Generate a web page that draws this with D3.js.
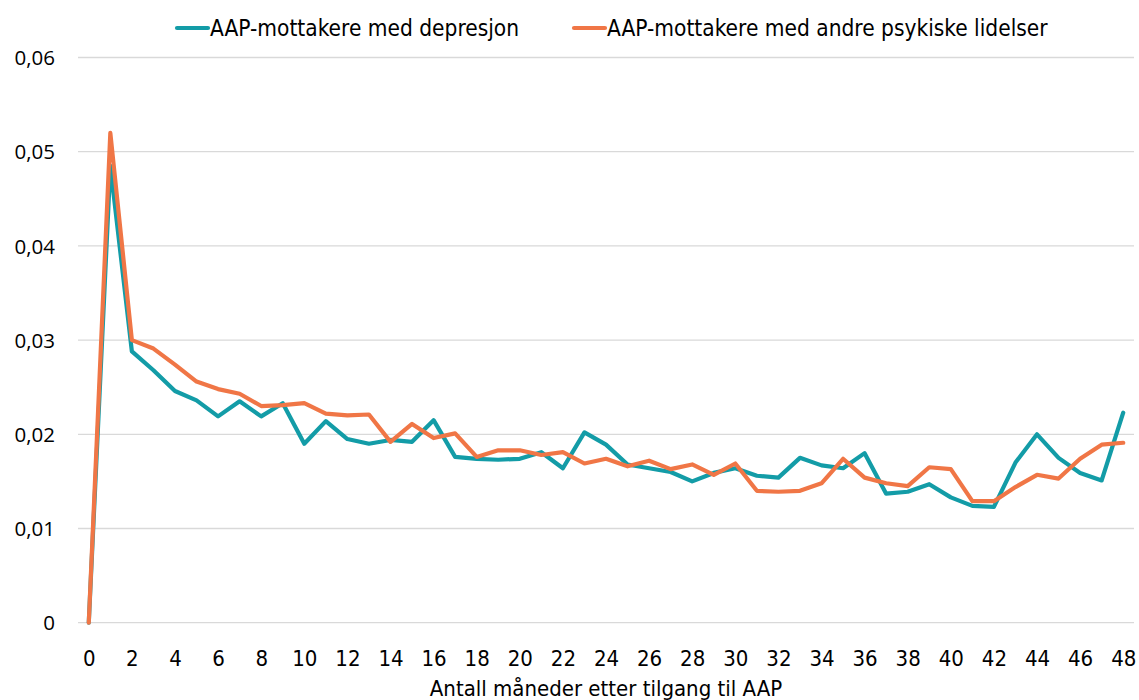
<!DOCTYPE html>
<html>
<head>
<meta charset="utf-8">
<script src="https://cdn.jsdelivr.net/npm/d3@7"></script>
<style>
  html, body { margin: 0; padding: 0; background: #fff; }
  svg { display: block; }
</style>
</head>
<body>
<svg id="chart" width="1139" height="700"></svg>
<script>
const months = d3.range(0, 49);
const seriesNames = ["AAP-mottakere med depresjon", "AAP-mottakere med andre psykiske lidelser"];
const depresjon = [
  0, 0.0485, 0.0288, 0.0268, 0.0246, 0.0236, 0.0219, 0.0235, 0.0219, 0.0233,
  0.0190, 0.0214, 0.0195, 0.0190, 0.0194, 0.0192, 0.0215, 0.0176, 0.0174, 0.0173,
  0.0174, 0.0181, 0.0164, 0.0202, 0.0189, 0.0168, 0.0164, 0.0160, 0.0150, 0.0159,
  0.0164, 0.0156, 0.0154, 0.0175, 0.0167, 0.0164, 0.0180, 0.0137, 0.0139, 0.0147,
  0.0133, 0.0124, 0.0123, 0.0170, 0.0200, 0.0175, 0.0159, 0.0151, 0.0223
];
const andre = [
  0, 0.0520, 0.0300, 0.0291, 0.0274, 0.0256, 0.0248, 0.0243, 0.0230, 0.0231,
  0.0233, 0.0222, 0.0220, 0.0221, 0.0192, 0.0211, 0.0196, 0.0201, 0.0176, 0.0183,
  0.0183, 0.0178, 0.0181, 0.0169, 0.0174, 0.0166, 0.0172, 0.0163, 0.0168, 0.0157,
  0.0169, 0.0140, 0.0139, 0.0140, 0.0148, 0.0174, 0.0154, 0.0148, 0.0145, 0.0165,
  0.0163, 0.0129, 0.0129, 0.0144, 0.0157, 0.0153, 0.0174, 0.0189, 0.0191
];
const yTicks = [0, 0.01, 0.02, 0.03, 0.04, 0.05, 0.06];
const xTicks = d3.range(0, 49, 2);
const xTitle = "Antall måneder etter tilgang til AAP";
const colors = ["#139ca7", "#f07646"];

(function () {
const svg = d3.select("#chart");
const mLeft = 78, mRight = 1134, mTop = 57.5, mBottom = 622.7;
const narrow = "'Liberation Sans Narrow', 'DejaVu Sans Condensed', sans-serif";

const x = d3.scaleLinear().domain([-0.5, 48.5]).range([mLeft, mRight]);
const y = d3.scaleLinear().domain([0, 0.06]).range([mBottom, mTop]);

const fmt = v => v === 0 ? "0" : d3.format(".2f")(v).replace(".", ",");

// gridlines
svg.append("g").selectAll("line").data(yTicks).join("line")
  .attr("x1", mLeft).attr("x2", mRight)
  .attr("y1", d => y(d)).attr("y2", d => y(d))
  .attr("stroke", "#d9d9d9").attr("stroke-width", 1.3);

// y axis labels
const yAxis = d3.axisLeft(y).tickValues(yTicks).tickFormat(fmt).tickSize(0).tickPadding(0);
const gy = svg.append("g").attr("transform", `translate(55,0)`).call(yAxis);
gy.select(".domain").remove();
gy.selectAll("text").attr("font-family", "'Open Sans', sans-serif")
  .attr("font-size", 20.5).attr("fill", "#000").attr("dy", "0.35em");

// x axis labels
const xAxis = d3.axisBottom(x).tickValues(xTicks).tickFormat(d3.format("d")).tickSize(0).tickPadding(0);
const gx = svg.append("g").attr("transform", `translate(0,650)`).call(xAxis);
gx.select(".domain").remove();
gx.selectAll("text").attr("font-family", narrow)
  .attr("font-size", 22).attr("fill", "#000").attr("dy", "0.71em");

// x title
svg.append("text").attr("x", (mLeft + mRight) / 2).attr("y", 696)
  .attr("text-anchor", "middle")
  .attr("font-family", narrow)
  .attr("font-size", 22).attr("fill", "#000").text(xTitle);

// lines
const line = d3.line().x((d, i) => x(months[i])).y(d => y(d));
[depresjon, andre].forEach((s, i) => {
  svg.append("path").datum(s)
    .attr("d", line).attr("fill", "none")
    .attr("stroke", colors[i]).attr("stroke-width", 4.2)
    .attr("stroke-linejoin", "round").attr("stroke-linecap", "round");
});

// legend
const legendItems = [
  { name: seriesNames[0], color: colors[0], x0: 177 },
  { name: seriesNames[1], color: colors[1], x0: 574 }
];
const lg = svg.append("g");
legendItems.forEach(it => {
  lg.append("line").attr("x1", it.x0).attr("x2", it.x0 + 31)
    .attr("y1", 28).attr("y2", 28)
    .attr("stroke", it.color).attr("stroke-width", 4.2).attr("stroke-linecap", "round");
  lg.append("text").attr("x", it.x0 + 33).attr("y", 28).attr("dy", "0.35em")
    .attr("font-family", narrow)
    .attr("font-size", 22.5).attr("fill", "#000").text(it.name);
});
})();
</script>
</body>
</html>
